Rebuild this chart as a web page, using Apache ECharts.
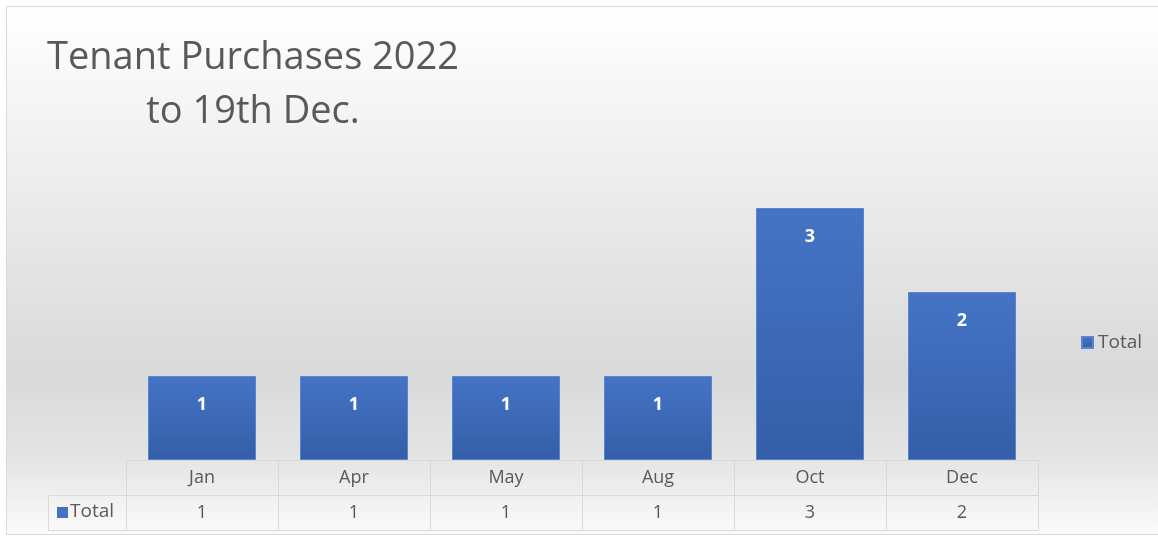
<!DOCTYPE html>
<html>
<head>
<meta charset="utf-8">
<script src="https://cdn.jsdelivr.net/npm/echarts@6/dist/echarts.min.js"></script>
<style>
  html, body { margin: 0; padding: 0; background: #fff; }
  #chart { width: 1158px; height: 540px; }
</style>
</head>
<body>
<div id="chart"></div>
<script>
// data
const months = ["Jan", "Apr", "May", "Aug", "Oct", "Dec"];
const totals = [1, 1, 1, 1, 3, 2];
const seriesName = "Total";

const chart = echarts.init(document.getElementById("chart"));
const txt = "#595959";
const lineCol = "#d9d9d9";
const font = "Open Sans";

chart.setOption({
  backgroundColor: "#ffffff",
  animation: false,
  title: {
    text: "Tenant Purchases 2022\nto 19th Dec.",
    left: 248,
    top: 26,
    textAlign: "center",
    textStyle: {
      fontFamily: font,
      fontSize: 38,
      fontWeight: "normal",
      color: txt,
      lineHeight: 54
    }
  },
  legend: {
    data: [seriesName],
    left: 1076,
    top: 328,
    icon: "rect",
    itemWidth: 11,
    itemHeight: 11,
    itemGap: 4,
    textStyle: { fontFamily: font, fontSize: 19, color: txt }
  },
  grid: { left: 126, right: 120, top: 166, bottom: 80 },
  xAxis: [
    {
      // header row of the data table
      type: "category",
      data: months,
      position: "bottom",
      axisLine: { lineStyle: { color: lineCol, width: 1 } },
      axisTick: { show: true, length: 70, lineStyle: { color: lineCol } },
      axisLabel: { margin: 9, fontFamily: font, fontSize: 18, color: txt }
    },
    {
      // value row
      type: "category",
      data: months,
      position: "bottom",
      offset: 35,
      axisLine: { lineStyle: { color: lineCol, width: 1 } },
      axisTick: { show: false },
      axisLabel: {
        margin: 9, fontFamily: font, fontSize: 18, color: txt,
        formatter: (v, i) => String(totals[i])
      }
    },
    {
      // bottom edge of table
      type: "category",
      data: months,
      position: "bottom",
      offset: 70,
      axisLine: { lineStyle: { color: lineCol, width: 1 } },
      axisTick: { show: false },
      axisLabel: { show: false }
    }
  ],
  yAxis: {
    type: "value",
    min: 0,
    max: 3.5,
    show: false,
    splitLine: { show: false }
  },
  graphic: [
    {
      type: "rect",
      z: -1,
      silent: true,
      shape: { x: 6.5, y: 6.5, width: 1160, height: 528 },
      style: {
        stroke: lineCol,
        lineWidth: 1,
        fill: new echarts.graphic.LinearGradient(0, 0, 0, 1, [
          { offset: 0, color: "#ffffff" },
          { offset: 0.22, color: "#f3f3f3" },
          { offset: 0.7, color: "#d9d9d9" },
          { offset: 0.85, color: "#e4e4e4" },
          { offset: 1, color: "#fbfbfb" }
        ])
      }
    },
    {
      // row header cell of the data table
      type: "rect",
      silent: true,
      shape: { x: 48.5, y: 495.5, width: 78, height: 35 },
      style: { stroke: lineCol, lineWidth: 1, fill: "transparent" }
    },
    {
      type: "rect",
      silent: true,
      shape: { x: 57, y: 507, width: 11, height: 11 },
      style: { fill: "#4472c4" }
    },
    {
      type: "text",
      silent: true,
      x: 70,
      y: 512,
      style: {
        text: seriesName,
        font: "19px 'Open Sans'",
        fill: txt,
        verticalAlign: "middle"
      }
    }
  ],
  series: [
    {
      name: seriesName,
      type: "bar",
      xAxisIndex: 0,
      data: totals,
      barWidth: 108,
      itemStyle: {
        color: new echarts.graphic.LinearGradient(0, 0, 0, 1, [
          { offset: 0, color: "#4574c6" },
          { offset: 1, color: "#345ea7" }
        ]),
        borderColor: "#5a84cf",
        borderWidth: 1
      },
      label: {
        show: true,
        position: "insideTop",
        distance: 20,
        color: "#ffffff",
        fontFamily: font,
        fontWeight: "bold",
        fontSize: 18
      }
    }
  ]
});
</script>
</body>
</html>
